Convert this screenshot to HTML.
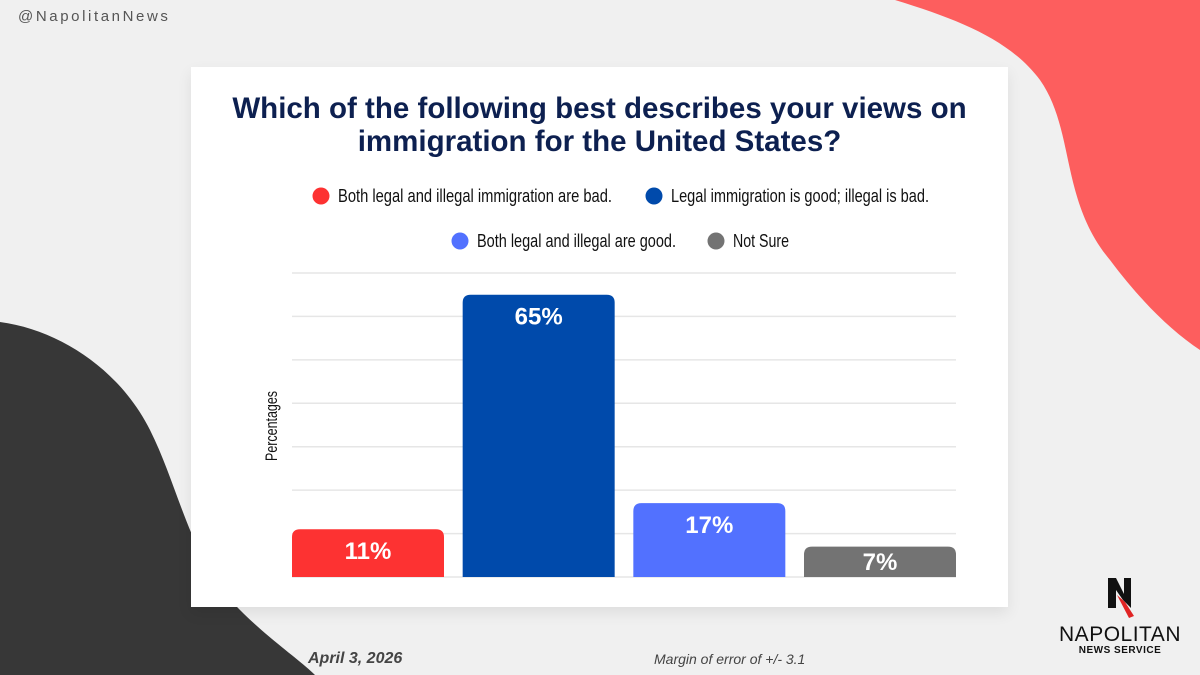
<!DOCTYPE html>
<html><head><meta charset="utf-8"><style>
body{margin:0;width:1200px;height:675px;overflow:hidden;background:#f0f0f0;font-family:"Liberation Sans",sans-serif;position:relative}
.abs{position:absolute}
</style></head><body>
<svg class="abs" width="1200" height="675" style="left:0;top:0">
<path d="M895,0 C960,20 1010,40 1040,80 C1075,130 1060,200 1110,260 C1140,300 1170,330 1200,350 L1200,0 Z" fill="#fd5e5e"/>
<path d="M0,322 C60,330 120,370 150,430 C180,490 190,560 240,610 C270,640 300,660 315,675 L0,675 Z" fill="#373737"/>
</svg>
<div class="abs" style="left:18px;top:8px;font-size:15px;letter-spacing:2.6px;color:#555">@NapolitanNews</div>
<div class="abs" style="left:191px;top:67px;width:817px;height:540px;background:#fff;box-shadow:0 6px 14px rgba(0,0,0,0.08)"></div>
<div class="abs" style="left:191px;top:92px;width:817px;text-align:center;font-size:29.5px;font-weight:bold;color:#0d2050;line-height:33px">Which of the following best describes your views on<br>immigration for the United States?</div>
<svg class="abs" id="chart" width="1200" height="675" style="left:0;top:0"></svg>
<div class="abs" style="left:308px;top:650px;font-size:16px;font-style:italic;font-weight:bold;color:#444">April 3, 2026</div>
<div class="abs" style="left:654px;top:651px;font-size:14px;font-style:italic;color:#444">Margin of error of +/- 3.1</div>
<div class="abs" style="left:1050px;top:578px;width:140px;text-align:center">
<svg width="40" height="42" viewBox="0 0 40 42"><path d="M8,0 H16 L24,16 V0 H31 V30 L23,22 L16,12 V30 H8 Z" fill="#111"/><path d="M17,17 L25,24 L34,38 L29,40 Z" fill="#e02424"/></svg>
<div style="font-size:21px;color:#111;line-height:20px;letter-spacing:0.5px">NAPOLITAN</div>
<div style="font-size:10px;font-weight:bold;color:#111;letter-spacing:0.5px">NEWS SERVICE</div>
</div>
<script>
const categories=["Both legal and illegal immigration are bad.","Legal immigration is good; illegal is bad.","Both legal and illegal are good.","Not Sure"];
const values=[11,65,17,7];
const labels=["11%","65%","17%","7%"];
const colors=["#fd3232","#004aab","#5271ff","#737373"];
const gridTicks=[0,10,20,30,40,50,60,70];
const svg=document.getElementById('chart');
const NS="http://www.w3.org/2000/svg";
const x0=292,x1=956,yb=577,yt=273,ymax=70;
const y=v=>yb-(v/ymax)*(yb-yt);
function mk(t,a){const e=document.createElementNS(NS,t);for(const k in a)e.setAttribute(k,a[k]);svg.appendChild(e);return e;}
gridTicks.forEach(t=>{const l=mk('line',{x1:x0,x2:x1,y1:y(t),y2:y(t),stroke:'#e6e6e6','stroke-width':1.5});

});
values.forEach((v,i)=>{
const w=152;
const xx=x0+i*(x1-x0-w)/3;
const top=y(v),r=8;
const p=mk('path',{d:`M${xx},${yb} V${top+r} Q${xx},${top} ${xx+r},${top} H${xx+w-r} Q${xx+w},${top} ${xx+w},${top+r} V${yb} Z`,fill:colors[i]});


const t=mk('text',{x:xx+w/2,y:Math.min(top+30,yb-7),'text-anchor':'middle',fill:'#fff','font-size':24,'font-weight':'bold','font-family':'Liberation Sans'});
t.textContent=labels[i];


});
const yl=mk('text',{x:0,y:0,transform:'translate(277,426) rotate(-90)','text-anchor':'middle','font-size':17,fill:'#111','font-family':'Liberation Sans','textLength':70,'lengthAdjust':'spacingAndGlyphs'});
yl.textContent='Percentages';


const leg=[[321,196,274],[654,196,258],[460,241,199],[716,241,56]];
categories.forEach((c,i)=>{
const [cx,cy,tl]=leg[i];
const ci=mk('circle',{cx:cx,cy:cy,r:8.5,fill:colors[i]});


const t=mk('text',{x:cx+17,y:cy+6,'font-size':18,fill:'#111','font-family':'Liberation Sans',textLength:tl,lengthAdjust:'spacingAndGlyphs'});
t.textContent=c;


});
</script>
</body></html>
